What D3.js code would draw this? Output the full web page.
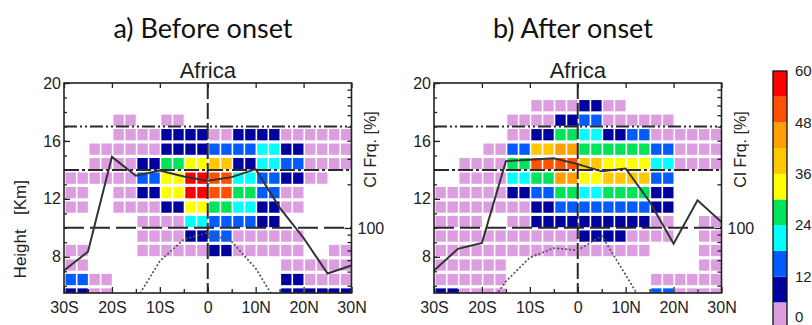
<!DOCTYPE html>
<html lang="en">
  <head>
    <meta charset="UTF-8" />
    <title>cirrus-africa</title>
    <style>
      body { margin: 0; background: #fff; }
      text { font-family: "Liberation Sans", Arial, sans-serif; fill: #222; }
      .title { font-family: Lato, "Open Sans", sans-serif; font-size: 27px; fill: #111; }
    </style>
  </head>
  <body>
    <svg width="812" height="325" id="svg"></svg>
    <script src="https://cdn.jsdelivr.net/npm/d3@7/dist/d3.min.js"></script>
    <script>
      // 5 deg latitude bins (left edge) and 1 km height bins (bottom edge)
      const lats = [-30, -25, -20, -15, -10, -5, 0, 5, 10, 15, 20, 25];
      const heights = [19, 18, 17, 16, 15, 14, 13, 12, 11, 10, 9, 8, 7, 6, 5];
      const _ = null;

      // cirrus frequency [%] before onset, rows = heights, cols = lats
      const freqBefore = [
        [_, _, _, _, _, _, _, _, _, _, _, _],
        [_, _, _, _, _, _, _, _, _, _, _, _],
        [_, _, 3, _, 3, _, _, _, _, _, _, _],
        [_, _, 3, 3, 9, 9, 3, 9, 9, 3, 3, 3],
        [_, 3, 3, 3, 9, 9, 15, 15, 21, 9, 3, 3],
        [_, 3, 3, 9, 27, 33, 39, 9, 21, 15, 3, 3],
        [3, 3, 3, 15, 33, 57, 51, 21, 15, 9, 3, _],
        [3, _, 3, 9, 33, 57, 51, 27, 15, 3, _, _],
        [3, _, 3, 3, 9, 33, 27, 21, 9, 3, _, _],
        [_, _, _, 3, 3, 21, 15, 15, 9, _, _, _],
        [_, _, _, 3, 3, 9, 15, 3, 3, 3, _, _],
        [3, _, _, 3, 3, 3, 9, 3, 3, 3, _, 3],
        [3, _, _, _, _, _, _, _, _, 3, 3, 3],
        [15, 3, _, _, _, _, _, _, _, 9, 3, 3],
        [9, 3, _, _, _, _, _, _, _, 9, 9, 9],
      ];

      // cirrus frequency [%] after onset
      const freqAfter = [
        [_, _, _, _, _, _, _, _, _, _, _, _],
        [_, _, _, _, 3, 3, 9, 3, _, _, _, _],
        [_, _, _, 3, 3, 9, 15, 3, 3, 3, _, _],
        [_, _, _, 3, 9, 27, 21, 9, 15, 3, 3, 3],
        [_, _, 3, 15, 39, 45, 27, 27, 27, 15, 3, 3],
        [_, 3, 3, 27, 51, 51, 39, 33, 33, 21, 3, 3],
        [_, 3, 3, 21, 27, 45, 33, 39, 39, 15, _, _],
        [3, 3, 3, 9, 15, 27, 21, 27, 27, 9, _, _],
        [3, 3, 3, 3, 9, 15, 15, 15, 15, 9, _, _],
        [3, 3, _, 3, 9, 9, 9, 9, 9, 3, _, 3],
        [3, 3, 3, 3, 3, 3, 9, 9, 3, 3, _, 3],
        [3, 3, 3, 3, 3, 3, 3, 3, 3, _, _, 3],
        [3, 3, 3, _, _, _, _, _, _, _, _, 3],
        [3, 3, 3, _, _, _, _, _, _, 3, 3, 3],
        [9, 3, 3, _, _, _, _, _, _, 15, 3, 3],
      ];

      // solid line (km) at 5 deg steps
      const lineLats = [-30, -25, -20, -15, -10, -5, 0, 5, 10, 15, 20, 25, 30];
      const lineBefore = [7.05, 8.35, 14.9, 13.6, 13.95, 13.55, 13.25, 13.5, 14.05, 11.4, 9.3, 6.85, 7.4];
      const lineAfter = [7.05, 8.55, 8.95, 14.6, 14.7, 14.8, 14.4, 13.9, 14.1, 11.8, 8.9, 11.9, 10.4];

      // dotted line (km)
      const dotLatsBefore = [-15, -10, -5, 0, 5, 10, 15];
      const dotBefore = [5.0, 7.7, 9.2, 9.65, 9.05, 7.2, 4.5];
      const dotLatsAfter = [-20, -15, -10, -5, 0, 5, 10, 15];
      const dotAfter = [4.0, 6.3, 7.95, 8.6, 8.45, 9.45, 6.75, 4.0];

      const refHeights = [17, 14, 10];
      const yTicks = [8, 12, 16, 20];
      const xTicks = [-30, -20, -10, 0, 10, 20, 30];
      const xTickLabels = ["30S", "20S", "10S", "0", "10N", "20N", "30N"];

      const bandEdges = [0, 6, 12, 18, 24, 30, 36, 42, 48, 54, 60];
      const barTicks = [0, 12, 24, 36, 48, 60];
      const bandColors = ["#dc9ee0", "#00009e", "#005cff", "#00ffff", "#00e35a",
        "#ffff00", "#ffc800", "#ffa000", "#ff5000", "#ff0000"];

      const color = d3.scaleThreshold().domain(bandEdges.slice(1, -1)).range(bandColors);

      const svg = d3.select("#svg");
      const y = d3.scaleLinear().domain([5.5, 20]).range([293, 83]);
      // right axis (log, 100 at 10 km)
      const yR = d3.scaleLog().domain([35.6, 1000]).range([293, 83]);

      const panels = [
        { left: 64, freq: freqBefore, line: lineBefore, dLats: dotLatsBefore, dot: dotBefore, title: "a) Before onset", id: "a" },
        { left: 434, freq: freqAfter, line: lineAfter, dLats: dotLatsAfter, dot: dotAfter, title: "b) After onset", id: "b" },
      ];

      const refDash = ["13,3,2,3,2,3", "15,3,3,3", "20,6"];

      panels.forEach((p) => {
        const x = d3.scaleLinear().domain([-30, 30]).range([p.left, p.left + 287.5]);
        const g = svg.append("g");

        svg.append("clipPath").attr("id", "clip" + p.id)
          .append("rect")
          .attr("x", x(-30)).attr("y", y(20))
          .attr("width", x(30) - x(-30)).attr("height", y(5.5) - y(20));

        // cells: each 5 deg bin shown as two 2.5 deg squares
        const cells = [];
        p.freq.forEach((row, i) => {
          row.forEach((v, j) => {
            if (v === null) return;
            cells.push({ lat: lats[j], h: heights[i], v });
            cells.push({ lat: lats[j] + 2.5, h: heights[i], v });
          });
        });
        g.append("g").attr("clip-path", `url(#clip${p.id})`)
          .selectAll("rect")
          .data(cells)
          .join("rect")
          .attr("x", (d) => x(d.lat) + 1.5)
          .attr("y", (d) => y(d.h + 1) + 2.6)
          .attr("width", (d) => x(d.lat + 2.5) - x(d.lat) - 1.6)
          .attr("height", (d) => y(d.h) - y(d.h + 1) - 3.2)
          .attr("fill", (d) => color(d.v));

        const lines = g.append("g").attr("clip-path", `url(#clip${p.id})`);

        // reference heights
        lines.selectAll("line.ref")
          .data(refHeights)
          .join("line")
          .attr("class", "ref")
          .attr("x1", x(-30)).attr("x2", x(30))
          .attr("y1", (d) => y(d)).attr("y2", (d) => y(d))
          .attr("stroke", "#2a2a2a")
          .attr("stroke-width", 2)
          .attr("stroke-dasharray", (d, i) => refDash[i]);

        // equator
        lines.append("line")
          .attr("x1", x(0)).attr("x2", x(0))
          .attr("y1", y(20)).attr("y2", y(5.5))
          .attr("stroke", "#2a2a2a")
          .attr("stroke-width", 2)
          .attr("stroke-dasharray", "16,4");

        const line = d3.line().x((d) => x(d[0])).y((d) => y(d[1]));

        lines.append("path")
          .attr("d", line(p.dLats.map((l, i) => [l, p.dot[i]])))
          .attr("fill", "none")
          .attr("stroke", "#555")
          .attr("stroke-width", 1.7)
          .attr("stroke-dasharray", "2,2");

        lines.append("path")
          .attr("d", line(lineLats.map((l, i) => [l, p.line[i]])))
          .attr("fill", "none")
          .attr("stroke", "#333")
          .attr("stroke-width", 2);

        // axes, ticks inward
        const left = g.append("g")
          .attr("transform", `translate(${x(-30)},0)`)
          .call(d3.axisLeft(y).tickValues(d3.range(6, 21)).tickSize(-3).tickFormat(""));
        left.append("g")
          .call(d3.axisLeft(y).tickValues(yTicks).tickSize(-6).tickPadding(3));

        const bottom = g.append("g")
          .attr("transform", `translate(0,${y(5.5)})`)
          .call(d3.axisBottom(x).tickValues(d3.range(-25, 30, 10)).tickSize(-4).tickFormat(""));
        bottom.append("g")
          .call(d3.axisBottom(x).tickValues(xTicks).tickSize(-6).tickPadding(9)
            .tickFormat((d, i) => xTickLabels[i]));

        g.append("g")
          .attr("transform", `translate(0,${y(20)})`)
          .call(d3.axisTop(x).tickValues(xTicks).tickSize(-5).tickFormat(""));

        const right = g.append("g")
          .attr("transform", `translate(${x(30)},0)`)
          .call(d3.axisRight(yR).tickValues([40, 50, 60, 70, 80, 90, 200, 300, 400, 500, 600, 700, 800, 900])
            .tickSize(-4).tickFormat(""));
        right.append("g")
          .call(d3.axisRight(yR).tickValues([100]).tickSize(-7).tickPadding(6).tickFormat(d3.format("d")));

        g.selectAll(".domain").remove();
        g.selectAll(".tick line").attr("stroke", "#222").attr("stroke-width", 1.3);
        g.selectAll(".tick text").attr("font-size", 16).attr("fill", "#333")
          .attr("font-family", "Liberation Sans, Arial, sans-serif");

        g.append("rect")
          .attr("x", x(-30)).attr("y", y(20))
          .attr("width", x(30) - x(-30)).attr("height", y(5.5) - y(20))
          .attr("fill", "none")
          .attr("stroke", "#222")
          .attr("stroke-width", 1.6);

        // texts
        g.append("text")
          .attr("x", x(0)).attr("y", 78)
          .attr("text-anchor", "middle")
          .attr("font-size", 22)
          .text("Africa");

        g.append("text")
          .attr("class", "title")
          .attr("x", x(-1)).attr("y", 38)
          .attr("text-anchor", "middle")
          .text(p.title);

        g.append("text")
          .attr("transform", `translate(${x(30) + 24},${y(15.4)}) rotate(-90)`)
          .attr("text-anchor", "middle")
          .attr("font-size", 16)
          .attr("fill", "#333")
          .text("CI Frq. [%]");
      });

      svg.append("text")
        .attr("transform", `translate(26,${y(9.9)}) rotate(-90)`)
        .attr("text-anchor", "middle")
        .attr("font-size", 17)
        .attr("fill", "#333")
        .text("Height\u00a0\u00a0\u00a0[Km]");

      // colour bar
      const cb = d3.scaleLinear().domain([0, 60]).range([328, 71]);
      const bar = svg.append("g");
      bar.selectAll("rect")
        .data(bandEdges.slice(0, -1))
        .join("rect")
        .attr("x", 773)
        .attr("y", (d, i) => cb(bandEdges[i + 1]))
        .attr("width", 14)
        .attr("height", (d, i) => cb(d) - cb(bandEdges[i + 1]))
        .attr("fill", (d, i) => bandColors[i]);
      bar.append("rect")
        .attr("x", 773).attr("y", cb(60))
        .attr("width", 14).attr("height", cb(0) - cb(60))
        .attr("fill", "none").attr("stroke", "#111").attr("stroke-width", 1.3);
      bar.selectAll("text")
        .data(barTicks)
        .join("text")
        .attr("x", 795)
        .attr("y", (d) => Math.min(cb(d), 317))
        .attr("dy", "0.35em")
        .attr("font-size", 15)
        .attr("fill", "#333")
        .text((d) => d);
    </script>
  </body>
</html>
